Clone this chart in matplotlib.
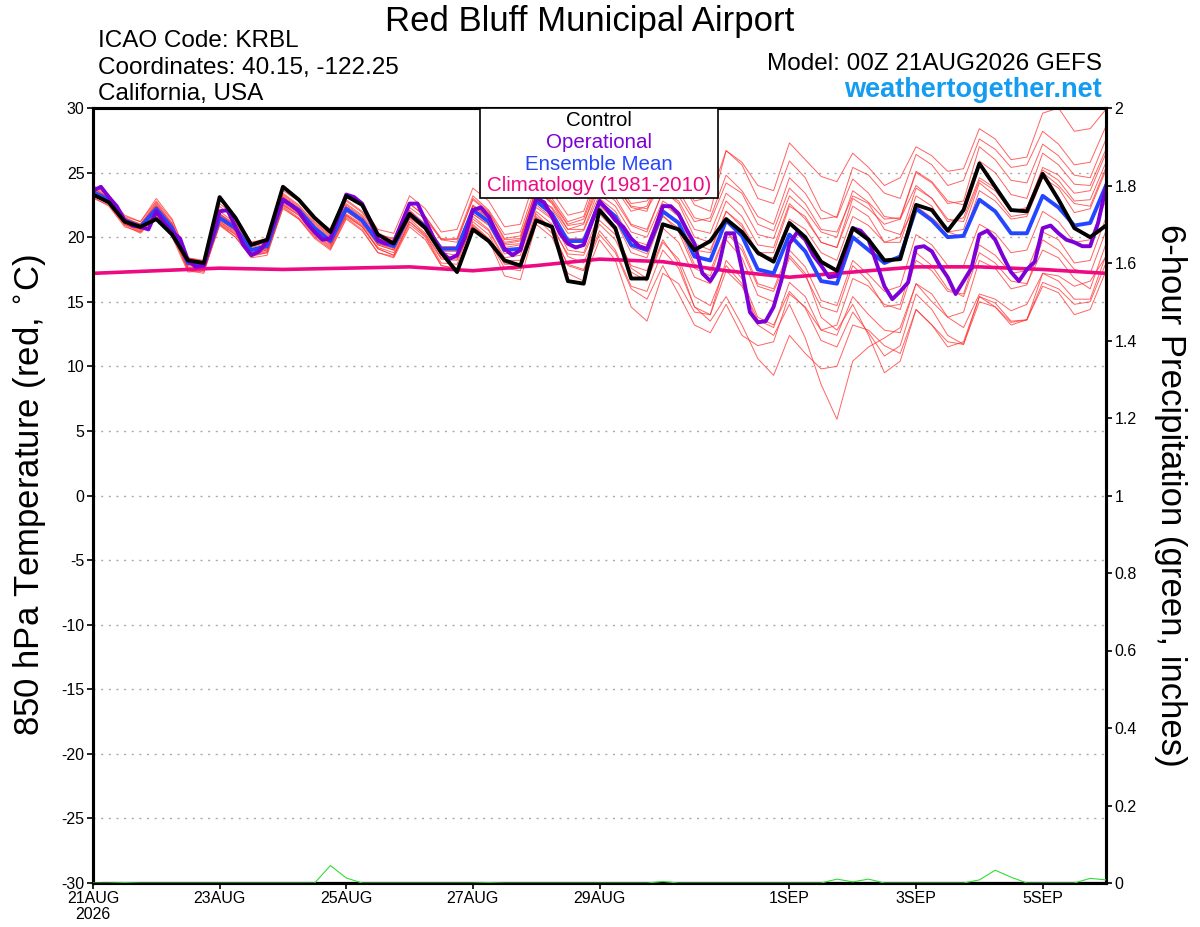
import numpy as np
import matplotlib
matplotlib.use('Agg')
import matplotlib.pyplot as plt
from matplotlib.patches import Rectangle

plt.rcParams['font.family'] = ['Liberation Sans', 'DejaVu Sans']
plt.rcParams['axes.unicode_minus'] = False

# 850 hPa temperature, 6-hourly from 00Z 21AUG2026
control = [23.3, 22.7, 21.2, 20.8, 21.4, 20.2, 18.2, 18.0, 23.1, 21.5, 19.4, 19.8, 23.9, 22.9, 21.5, 20.4,
           23.2, 22.5, 20.2, 19.5, 21.8, 20.7, 18.8, 17.3, 20.6, 19.7, 18.2, 17.8, 21.3, 20.8, 16.6, 16.4,
           22.1, 20.7, 16.8, 16.8, 21.0, 20.6, 19.0, 19.7, 21.4, 20.4, 18.8, 18.1, 21.1, 20.0, 18.1, 17.4,
           20.7, 19.8, 18.2, 18.3, 22.5, 22.1, 20.5, 22.1, 25.7, 23.9, 22.1, 22.0, 24.9, 22.9, 20.7, 20.0, 20.9]

ens_mean = [23.5, 22.9, 21.3, 20.8, 22.2, 20.7, 18.0, 17.9, 21.5, 20.7, 19.0, 19.3, 22.9, 22.1, 20.7, 19.7,
            22.2, 21.3, 19.7, 19.3, 21.8, 20.8, 19.1, 19.1, 22.1, 21.2, 19.0, 19.1, 22.8, 21.8, 19.7, 19.7,
            22.7, 21.6, 19.4, 19.0, 22.0, 21.1, 18.5, 18.2, 21.3, 20.1, 17.5, 17.2, 20.2, 18.9, 16.6, 16.4,
            20.0, 19.0, 18.0, 18.5, 22.2, 21.3, 20.0, 20.1, 22.9, 22.0, 20.3, 20.3, 23.2, 22.3, 20.9, 21.1, 24.0]

# operational run is 3-hourly
operational = [23.6, 23.9, 23.1, 22.4, 21.3, 20.9, 20.8, 20.6, 22.0, 21.1, 20.4, 19.9, 18.2, 17.7, 17.8, 19.8,
               22.0, 22.1, 20.8, 19.4, 18.6, 18.9, 19.7, 21.3, 22.9, 22.5, 22.0, 21.1, 20.4, 19.8, 19.9, 21.6,
               23.3, 23.1, 22.6, 21.3, 19.8, 19.5, 19.6, 21.1, 22.6, 22.6, 21.3, 20.0, 18.9, 18.3, 18.6, 20.0,
               22.1, 22.3, 21.6, 20.3, 19.1, 18.6, 19.0, 21.1, 23.0, 22.7, 21.6, 20.3, 19.5, 19.2, 19.4, 21.1,
               22.8, 22.1, 21.3, 20.8, 19.9, 19.3, 19.1, 20.6, 22.4, 22.4, 21.8, 20.6, 19.5, 17.2, 16.6, 17.6,
               20.3, 20.3, 17.5, 14.2, 13.4, 13.5, 14.6, 16.7, 19.5, 20.4, 19.8, 18.6, 17.8, 16.9, 17.0, 18.8,
               20.7, 20.5, 19.8, 18.0, 16.2, 15.2, 15.8, 16.5, 19.2, 19.3, 18.9, 17.8, 16.9, 15.6, 16.6, 17.6,
               20.2, 20.5, 19.8, 18.5, 17.3, 16.6, 17.5, 18.1, 20.7, 20.9, 20.3, 19.8, 19.6, 19.3, 19.3, 21.1,
               23.9]

# climatology, daily
climatology = [17.2, 17.4, 17.6, 17.5, 17.6, 17.7, 17.4, 17.8, 18.3, 18.1, 17.4, 16.9, 17.3, 17.7, 17.7, 17.5, 17.2]

members = [
    [23.8, 23.0, 21.6, 21.2, 22.8, 21.3, 18.4, 18.2, 22.4, 21.3, 19.6, 19.8, 23.6, 22.8, 21.2, 20.2,
     22.9, 22.0, 20.3, 19.8, 22.6, 21.6, 19.9, 19.8, 22.9, 21.9, 19.8, 19.9, 23.6, 22.7, 20.9, 21.1,
     24.0, 23.1, 21.0, 20.6, 23.5, 22.8, 20.6, 20.3, 23.4, 22.4, 20.2, 19.9, 23.2, 22.1, 20.4, 20.0,
     23.6, 22.7, 21.4, 21.5, 25.1, 24.3, 22.8, 22.5, 25.9, 25.0, 23.3, 23.0, 26.5, 25.6, 24.1, 24.0, 26.8],
    [23.2, 22.6, 21.0, 20.5, 21.8, 20.4, 17.6, 17.5, 21.0, 20.2, 18.6, 18.9, 22.5, 21.7, 20.3, 19.4,
     21.8, 21.0, 19.4, 19.0, 21.5, 20.6, 18.9, 18.9, 21.8, 21.0, 19.0, 19.2, 23.0, 22.3, 20.6, 21.0,
     24.5, 23.8, 22.0, 22.4, 25.2, 24.6, 22.8, 23.1, 26.7, 25.8, 24.0, 23.6, 27.3, 26.0, 24.7, 24.3,
     26.5, 25.4, 24.0, 24.6, 27.0, 26.3, 25.1, 25.3, 28.4, 27.6, 26.0, 26.2, 29.6, 30.0, 28.2, 28.4, 29.9],
    [23.6, 22.8, 21.0, 20.4, 22.0, 20.3, 17.4, 17.2, 21.2, 20.4, 18.8, 19.0, 22.6, 21.8, 20.4, 19.5,
     21.6, 20.8, 19.2, 18.8, 21.4, 20.3, 18.4, 18.3, 21.4, 20.5, 18.2, 18.2, 22.0, 21.0, 18.5, 18.0,
     21.0, 19.8, 17.3, 16.6, 19.6, 18.3, 15.4, 14.7, 17.8, 16.4, 13.2, 12.4, 14.8, 12.2, 8.6, 5.9,
     10.4, 11.5, 12.2, 13.0, 16.4, 15.6, 13.8, 13.0, 15.6, 15.2, 14.3, 14.8, 17.2, 17.0, 16.2, 16.6, 18.5],
    [23.4, 22.7, 21.1, 20.6, 22.1, 20.5, 17.7, 17.6, 21.3, 20.5, 18.9, 19.1, 22.7, 21.9, 20.5, 19.5,
     22.0, 21.1, 19.5, 19.1, 21.6, 20.6, 18.8, 18.6, 21.6, 20.6, 18.4, 18.6, 22.3, 21.4, 19.0, 18.8,
     21.8, 20.5, 17.6, 16.8, 19.8, 18.0, 14.6, 13.5, 15.4, 13.2, 10.6, 9.3, 12.4, 11.0, 9.8, 10.0,
     13.2, 12.8, 11.6, 11.0, 14.4, 13.2, 11.9, 11.7, 15.0, 14.6, 13.4, 13.6, 16.5, 16.0, 14.8, 15.0, 18.0],
    [23.0, 22.5, 20.9, 20.3, 21.6, 20.0, 17.3, 17.4, 21.0, 20.0, 18.5, 18.8, 22.2, 21.4, 19.9, 19.0,
     21.4, 20.5, 18.8, 18.5, 21.0, 20.0, 17.8, 17.6, 20.8, 19.8, 17.0, 16.7, 21.0, 20.0, 17.2, 16.6,
     19.8, 18.2, 14.6, 13.5, 17.2, 16.4, 14.2, 14.0, 17.4, 16.2, 13.6, 13.0, 16.5, 15.4, 12.8, 12.4,
     15.4, 14.0, 12.8, 12.6, 16.4, 15.0, 13.8, 14.2, 18.2, 17.6, 16.0, 16.3, 19.8, 19.0, 17.5, 17.2, 20.5],
    [24.0, 23.3, 21.5, 21.0, 22.5, 21.0, 18.2, 18.0, 21.8, 21.0, 19.3, 19.6, 23.3, 22.4, 21.0, 20.0,
     22.6, 21.7, 20.1, 19.7, 22.3, 21.4, 19.8, 19.9, 23.2, 22.1, 20.2, 20.4, 24.1, 23.0, 21.2, 21.6,
     25.0, 24.1, 22.3, 22.0, 25.5, 24.6, 22.5, 22.0, 26.7, 25.6, 23.0, 22.6, 25.9, 24.6, 22.1, 21.5,
     24.5, 23.4, 21.6, 21.4, 24.0, 23.0, 21.2, 21.5, 24.6, 23.8, 22.0, 22.3, 25.2, 24.4, 22.8, 22.9, 25.8],
    [23.5, 22.9, 21.3, 20.9, 22.3, 20.8, 18.0, 17.8, 21.6, 20.6, 19.0, 19.3, 23.0, 22.2, 20.7, 19.7,
     22.3, 21.3, 19.6, 19.2, 21.9, 20.9, 19.2, 19.3, 22.2, 21.3, 19.2, 19.4, 22.9, 21.9, 19.9, 19.9,
     22.6, 21.4, 19.2, 18.7, 21.6, 20.7, 17.9, 17.4, 20.4, 19.3, 16.4, 16.0, 19.0, 17.7, 15.1, 14.7,
     18.2, 17.1, 15.8, 16.2, 20.2, 19.4, 17.8, 17.8, 21.0, 20.3, 18.8, 19.0, 22.0, 21.2, 19.6, 19.8, 22.9],
    [23.7, 23.1, 21.4, 20.9, 22.6, 21.0, 18.1, 17.9, 21.8, 20.9, 19.2, 19.5, 23.2, 22.3, 20.9, 19.9,
     22.5, 21.6, 19.9, 19.5, 22.1, 21.0, 19.3, 19.2, 22.4, 21.5, 19.5, 19.7, 23.3, 22.2, 20.3, 20.5,
     23.3, 22.4, 20.4, 20.0, 22.8, 22.0, 19.5, 19.0, 22.0, 20.8, 18.6, 18.4, 21.4, 20.6, 18.8, 18.2,
     21.6, 20.9, 19.6, 20.0, 23.8, 23.0, 21.4, 21.2, 24.4, 23.6, 22.0, 22.2, 25.4, 24.8, 23.4, 23.6, 26.5],
    [23.3, 22.6, 21.1, 20.6, 21.9, 20.4, 17.8, 17.7, 21.2, 20.3, 18.7, 19.0, 22.5, 21.7, 20.2, 19.3,
     21.7, 20.8, 19.1, 18.6, 21.2, 20.2, 18.3, 18.2, 21.0, 19.9, 17.9, 17.9, 21.6, 20.7, 18.7, 18.6,
     21.3, 20.2, 17.8, 17.4, 20.7, 19.6, 16.9, 16.4, 19.8, 18.4, 15.5, 15.0, 18.4, 17.0, 14.6, 14.2,
     17.8, 16.6, 14.6, 14.8, 18.8, 17.8, 16.0, 15.4, 18.8, 18.0, 16.6, 16.4, 19.0, 18.4, 16.8, 16.0, 19.5],
    [23.9, 23.2, 21.7, 21.2, 23.0, 21.4, 18.4, 18.1, 22.6, 21.6, 19.6, 19.9, 24.0, 23.0, 21.5, 20.6,
     23.3, 22.4, 20.6, 20.3, 23.2, 22.2, 20.4, 20.6, 23.8, 22.8, 20.8, 21.0, 24.8, 23.5, 21.7, 22.0,
     25.4, 24.4, 22.6, 22.8, 24.6, 23.6, 21.5, 21.2, 24.2, 23.4, 21.0, 20.5, 23.8, 22.6, 20.6, 20.4,
     23.2, 22.6, 20.6, 20.2, 22.4, 21.5, 20.4, 20.0, 23.6, 22.8, 21.4, 21.6, 24.6, 23.8, 21.9, 22.2, 25.2],
    [23.1, 22.4, 20.8, 20.4, 21.7, 20.2, 17.5, 17.3, 20.9, 20.0, 18.4, 18.6, 22.3, 21.4, 20.0, 19.1,
     21.5, 20.6, 18.8, 18.4, 20.8, 19.8, 17.8, 17.5, 20.9, 19.8, 17.6, 17.4, 21.5, 20.3, 17.9, 17.5,
     20.5, 19.0, 16.2, 15.8, 19.0, 17.6, 14.6, 14.0, 18.2, 16.8, 13.8, 13.2, 15.8, 14.5, 12.0, 11.5,
     14.2, 12.6, 10.8, 11.6, 15.6, 14.4, 12.4, 11.7, 15.4, 14.6, 13.2, 13.6, 16.2, 15.7, 14.0, 14.4, 17.4],
    [23.6, 23.0, 21.4, 21.0, 22.4, 20.9, 18.1, 18.0, 21.7, 20.8, 19.1, 19.4, 23.1, 22.2, 20.8, 19.8,
     22.4, 21.5, 19.8, 19.4, 22.0, 21.0, 19.0, 19.1, 22.5, 21.6, 19.6, 19.8, 23.8, 22.8, 21.0, 21.4,
     24.6, 23.9, 22.4, 22.2, 24.2, 23.2, 21.2, 21.5, 24.8, 23.6, 21.6, 21.0, 24.6, 23.4, 21.4, 21.6,
     25.4, 24.8, 23.4, 23.0, 26.4, 25.6, 24.0, 24.4, 27.6, 26.8, 25.4, 25.6, 28.2, 27.2, 25.6, 25.8, 28.6],
    [23.4, 22.8, 21.2, 20.7, 22.0, 20.6, 17.9, 17.7, 21.4, 20.5, 18.8, 19.1, 22.8, 22.0, 20.5, 19.6,
     22.0, 21.2, 19.4, 19.0, 21.6, 20.6, 18.6, 18.4, 21.8, 20.9, 18.7, 18.9, 22.5, 21.5, 19.4, 19.3,
     22.4, 21.3, 18.8, 18.4, 21.7, 20.4, 17.6, 17.0, 20.4, 19.0, 16.2, 15.8, 18.6, 17.2, 13.8, 12.8,
     14.8, 12.4, 9.5, 10.4, 14.4, 13.2, 11.5, 11.9, 15.4, 14.9, 13.5, 13.6, 17.2, 16.6, 15.2, 15.2, 18.6],
    [23.8, 23.1, 21.5, 21.0, 22.7, 21.1, 18.3, 18.1, 22.0, 21.1, 19.4, 19.7, 23.4, 22.5, 21.1, 20.1,
     22.8, 21.9, 20.2, 19.9, 22.6, 21.6, 19.8, 19.6, 23.0, 22.0, 19.9, 20.1, 23.6, 22.6, 20.6, 20.6,
     23.8, 22.8, 20.9, 20.4, 23.6, 22.6, 20.0, 19.6, 22.8, 21.6, 19.4, 19.2, 22.6, 21.4, 19.6, 19.2,
     22.4, 21.6, 19.6, 19.6, 23.2, 22.4, 20.4, 20.6, 24.2, 23.2, 21.6, 21.8, 25.0, 24.0, 22.6, 22.4, 25.4],
    [23.2, 22.7, 21.0, 20.6, 21.9, 20.5, 17.6, 17.5, 21.1, 20.2, 18.6, 18.8, 22.4, 21.5, 20.1, 19.2,
     21.7, 20.9, 19.1, 18.6, 21.2, 20.1, 18.0, 17.9, 21.2, 20.2, 18.0, 17.9, 21.8, 20.6, 17.8, 17.4,
     20.2, 18.8, 16.0, 15.2, 17.8, 15.6, 13.2, 12.6, 14.8, 12.4, 11.6, 11.9, 15.6, 14.6, 12.8, 13.2,
     16.8, 16.2, 14.8, 14.4, 18.2, 17.4, 15.8, 15.6, 19.4, 18.6, 17.2, 17.4, 20.4, 19.8, 18.0, 18.2, 21.5],
    [23.5, 22.8, 21.2, 20.8, 22.4, 20.9, 18.0, 17.8, 21.8, 20.8, 19.1, 19.4, 23.1, 22.2, 20.8, 19.8,
     22.2, 21.2, 19.5, 19.2, 21.8, 20.8, 19.1, 19.0, 22.4, 21.4, 19.4, 19.5, 23.0, 22.0, 19.8, 19.8,
     23.0, 22.0, 19.8, 19.4, 22.6, 21.6, 19.0, 18.8, 22.0, 21.0, 18.8, 18.8, 22.4, 21.6, 19.6, 19.2,
     23.0, 22.2, 21.0, 21.4, 25.0, 24.2, 22.6, 22.8, 27.0, 26.0, 24.4, 24.2, 27.2, 26.3, 24.8, 24.6, 27.6],
]

# 6-hour precipitation (inches)
precip = [0, 0, 0.001, 0, 0, 0, 0, 0, 0, 0, 0, 0, 0, 0, 0, 0.045,
          0.013, 0, 0, 0, 0, 0, 0, 0, 0, 0.001, 0, 0, 0, 0, 0, 0,
          0, 0, 0, 0, 0.004, 0, 0, 0, 0, 0, 0, 0, 0, 0, 0, 0.01,
          0.003, 0.01, 0, 0, 0, 0, 0, 0, 0.008, 0.033, 0.015, 0, 0, 0, 0, 0.012, 0.008]

tick_hours = [0, 48, 96, 144, 192, 264, 312, 360]
tick_labels = ['21AUG\n2026', '23AUG', '25AUG', '27AUG', '29AUG', '1SEP', '3SEP', '5SEP']
precip_ticks = ['0', '0.2', '0.4', '0.6', '0.8', '1', '1.2', '1.4', '1.6', '1.8', '2']

hours6 = np.arange(len(control)) * 6
hours3 = np.arange(len(operational)) * 3
hours24 = np.arange(len(climatology)) * 24

fig = plt.figure(figsize=(12, 9.27), dpi=100)
ax = fig.add_axes([93 / 1200, 44 / 927, 1013 / 1200, 775 / 927])

for m in members:
    ax.plot(hours6, m, color='#ff3030', lw=0.7, alpha=0.75, zorder=2)
ax.plot(hours24, climatology, color='#ee0a82', lw=2.6, zorder=3)
ax.plot(hours6, ens_mean, color='#2546ff', lw=2.8, zorder=4)
ax.plot(hours3, operational, color='#7d00d6', lw=2.8, zorder=5)
ax.plot(hours6, control, color='black', lw=2.8, zorder=6)

ax.set_xlim(0, 384)
ax.set_ylim(-30, 30)
ax.set_yticks(np.arange(-30, 31, 5))
ax.set_xticks(tick_hours)
ax.set_xticklabels(tick_labels, fontsize=11.5, linespacing=1.05)
for lab in ax.get_yticklabels():
    lab.set_fontsize(11.5)
for yv in range(-25, 30, 5):
    ax.axhline(yv, color='#aaaaaa', lw=1, linestyle=(0, (1.5, 4)), zorder=1)
ax.tick_params(direction='out', length=4, width=1.2, pad=2)
for sp in ax.spines.values():
    sp.set_linewidth(2.2)

ax2 = ax.twinx()
ax2.plot(hours6, precip, color='#33dd33', lw=0.8, zorder=3)
ax2.axhline(0, xmin=0.01, color='#b0b0d0', lw=2.5, zorder=2)
ax2.set_ylim(0, 2)
ax2.set_yticks(np.arange(0, 2.01, 0.2))
ax2.set_yticklabels(precip_ticks, fontsize=11.5)
ax2.tick_params(direction='out', length=4, width=1.2, pad=2)
for sp in ax2.spines.values():
    sp.set_linewidth(2.2)

# axis titles
fig.text(30 / 1200, 1 - 495 / 927, '850 hPa Temperature (red, $^{\\circ}$C)', rotation=90,
         ha='center', va='center', fontsize=25)
fig.text(1170 / 1200, 1 - 495 / 927, '6-hour Precipitation (green, inches)', rotation=270,
         ha='center', va='center', fontsize=25)

# header texts
fig.text(590 / 1200, 1 - 21 / 927, 'Red Bluff Municipal Airport', ha='center', va='center', fontsize=25)
fig.text(98 / 1200, 1 - 41 / 927, 'ICAO Code: KRBL', ha='left', va='center', fontsize=17.5)
fig.text(98 / 1200, 1 - 68 / 927, 'Coordinates: 40.15, -122.25', ha='left', va='center', fontsize=17.5)
fig.text(98 / 1200, 1 - 94 / 927, 'California, USA', ha='left', va='center', fontsize=17.5)
fig.text(1102 / 1200, 1 - 64 / 927, 'Model: 00Z 21AUG2026 GEFS', ha='right', va='center', fontsize=17.5)
fig.text(1102 / 1200, 1 - 90 / 927, 'weathertogether.net', ha='right', va='center', fontsize=19.5,
         fontweight='bold', color='#149cf0')

# legend box
fig.patches.append(Rectangle((480 / 1200, 1 - 198 / 927), 238 / 1200, 90 / 927,
                             transform=fig.transFigure, facecolor='white', edgecolor='black',
                             lw=1.2, zorder=10))
leg_items = [('Control', 'black'), ('Operational', '#7d00d6'),
             ('Ensemble Mean', '#2546ff'), ('Climatology (1981-2010)', '#ee0a82')]
for k, (txt, col) in enumerate(leg_items):
    fig.text(599 / 1200, 1 - (121 + 21.5 * k) / 927, txt, ha='center', va='center',
             fontsize=14.8, color=col, zorder=11)

fig.savefig('out.png', dpi=100)
